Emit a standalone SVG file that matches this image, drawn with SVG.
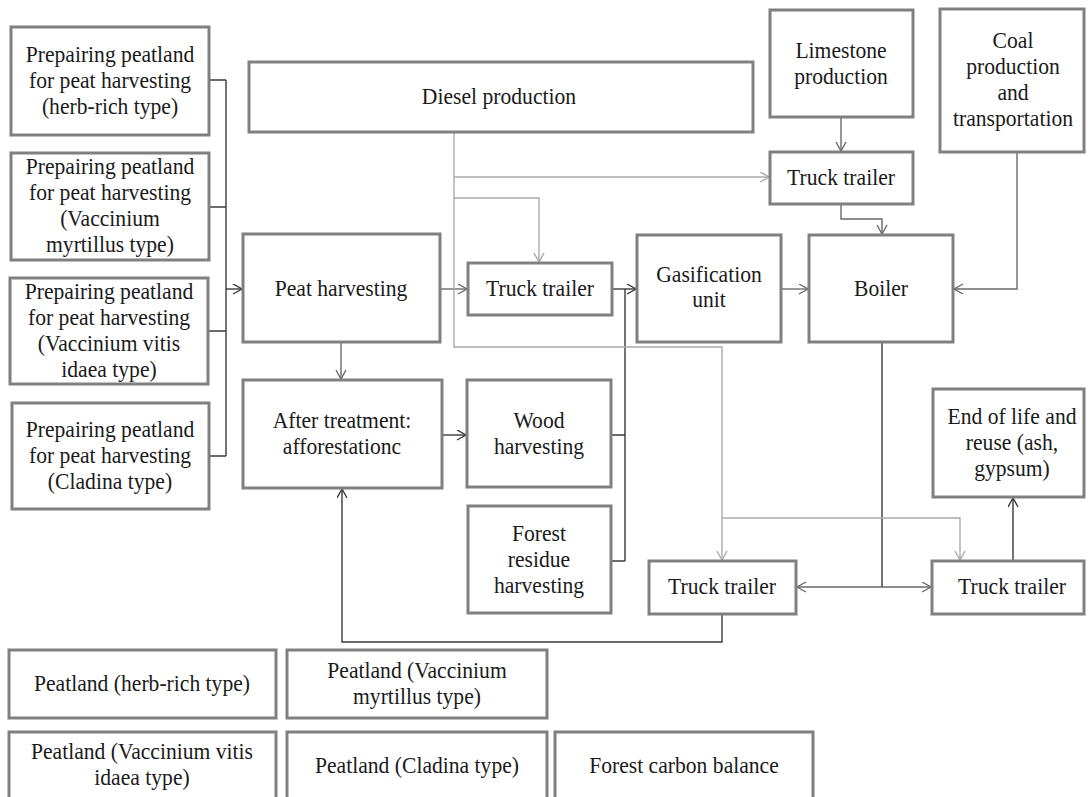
<svg xmlns="http://www.w3.org/2000/svg" width="1088" height="797" viewBox="0 0 1088 797">
  <style>
    .box { fill: #ffffff; stroke: #808080; stroke-width: 3; }
    .lbl { font-family: "Liberation Serif", "Times New Roman", serif; font-size: 23px; fill: #1a1a1a; text-anchor: middle;
           transform: scaleX(0.94); transform-box: fill-box; transform-origin: center; }
    .dk { fill: none; stroke: #3a3a3a; stroke-width: 1.4; }
    .md { fill: none; stroke: #6a6a6a; stroke-width: 1.4; }
    .lt { fill: none; stroke: #ababab; stroke-width: 1.4; }
  </style>
  <defs>
    <marker id="arDk" markerUnits="userSpaceOnUse" markerWidth="12" markerHeight="12" refX="10" refY="5.5" orient="auto">
      <path d="M1,0.5 L10,5.5 L1,10.5" fill="none" stroke="#3a3a3a" stroke-width="1.4"/>
    </marker>
    <marker id="arMd" markerUnits="userSpaceOnUse" markerWidth="12" markerHeight="12" refX="10" refY="5.5" orient="auto">
      <path d="M1,0.5 L10,5.5 L1,10.5" fill="none" stroke="#6a6a6a" stroke-width="1.4"/>
    </marker>
    <marker id="arLt" markerUnits="userSpaceOnUse" markerWidth="12" markerHeight="12" refX="10" refY="5.5" orient="auto">
      <path d="M1,0.5 L10,5.5 L1,10.5" fill="none" stroke="#ababab" stroke-width="1.4"/>
    </marker>
  </defs>

  <rect width="1088" height="797" fill="#ffffff"/>

  <!-- connectors -->
  <g id="connectors">
    <!-- peatland preparation merge into peat harvesting -->
    <path class="dk" d="M209,80 H226 M209,207 H226 M208,331 H226 M209,456 H226 M226,80 V456"/>
    <path class="dk" d="M226,289 H242" marker-end="url(#arDk)"/>
    <!-- peat harvesting outputs -->
    <path class="md" d="M440,289 H467" marker-end="url(#arMd)"/>
    <path class="md" d="M341,342 V379" marker-end="url(#arMd)"/>
    <path class="dk" d="M442,435 H466" marker-end="url(#arDk)"/>
    <!-- wood and residue merge into gasification -->
    <path class="dk" d="M611,435 H625 M611,561 H625 M625,561 V289"/>
    <path class="dk" d="M612,289 H636" marker-end="url(#arDk)"/>
    <!-- gasification and supplies to boiler -->
    <path class="md" d="M781,289 H808" marker-end="url(#arMd)"/>
    <path class="md" d="M1017,152 V289 H954" marker-end="url(#arMd)"/>
    <path class="md" d="M841,117 V151" marker-end="url(#arMd)"/>
    <path class="md" d="M841,204 V219 H882 V234" marker-end="url(#arMd)"/>
    <!-- boiler residues -->
    <path class="dk" d="M882,342 V587"/>
    <path class="md" d="M882,587 H797" marker-end="url(#arMd)"/>
    <path class="md" d="M882,587 H931" marker-end="url(#arMd)"/>
    <path class="dk" d="M1013,561 V498" marker-end="url(#arDk)"/>
    <path class="dk" d="M722,614 V642 H342 V489" marker-end="url(#arDk)"/>
    <!-- diesel supply -->
    <path class="lt" d="M454,132 V347 H722 V560" marker-end="url(#arLt)"/>
    <path class="lt" d="M454,177 H769" marker-end="url(#arLt)"/>
    <path class="lt" d="M454,198 H539 V262" marker-end="url(#arLt)"/>
    <path class="lt" d="M722,518 H960 V560" marker-end="url(#arLt)"/>
  </g>

  <!-- nodes -->
  <g id="prep-herb">
    <rect class="box" x="11" y="27" width="198" height="108"/>
    <text class="lbl" x="110" y="62">Prepairing peatland</text>
    <text class="lbl" x="110" y="88">for peat harvesting</text>
    <text class="lbl" x="110" y="114">(herb-rich type)</text>
  </g>
  <g id="prep-myrtillus">
    <rect class="box" x="11" y="153" width="198" height="107"/>
    <text class="lbl" x="110" y="174">Prepairing peatland</text>
    <text class="lbl" x="110" y="200">for peat harvesting</text>
    <text class="lbl" x="110" y="226">(Vaccinium</text>
    <text class="lbl" x="110" y="252">myrtillus type)</text>
  </g>
  <g id="prep-vitis">
    <rect class="box" x="10" y="278" width="198" height="106"/>
    <text class="lbl" x="109" y="299">Prepairing peatland</text>
    <text class="lbl" x="109" y="325">for peat harvesting</text>
    <text class="lbl" x="109" y="351">(Vaccinium vitis</text>
    <text class="lbl" x="109" y="377">idaea type)</text>
  </g>
  <g id="prep-cladina">
    <rect class="box" x="12" y="403" width="197" height="106"/>
    <text class="lbl" x="110" y="437">Prepairing peatland</text>
    <text class="lbl" x="110" y="463">for peat harvesting</text>
    <text class="lbl" x="110" y="489">(Cladina type)</text>
  </g>
  <g id="diesel">
    <rect class="box" x="249" y="62" width="504" height="70"/>
    <text class="lbl" x="499" y="104">Diesel production</text>
  </g>
  <g id="peat-harvesting">
    <rect class="box" x="243" y="234" width="197" height="108"/>
    <text class="lbl" x="341" y="296">Peat harvesting</text>
  </g>
  <g id="after-treatment">
    <rect class="box" x="243" y="380" width="199" height="108"/>
    <text class="lbl" x="342" y="428">After treatment:</text>
    <text class="lbl" x="342" y="454">afforestationc</text>
  </g>
  <g id="wood-harvesting">
    <rect class="box" x="467" y="380" width="144" height="107"/>
    <text class="lbl" x="539" y="428">Wood</text>
    <text class="lbl" x="539" y="454">harvesting</text>
  </g>
  <g id="residue-harvesting">
    <rect class="box" x="468" y="506" width="143" height="107"/>
    <text class="lbl" x="539" y="541">Forest</text>
    <text class="lbl" x="539" y="567">residue</text>
    <text class="lbl" x="539" y="593">harvesting</text>
  </g>
  <g id="truck-peat">
    <rect class="box" x="468" y="263" width="144" height="52"/>
    <text class="lbl" x="540" y="296">Truck trailer</text>
  </g>
  <g id="gasification">
    <rect class="box" x="637" y="235" width="144" height="107"/>
    <text class="lbl" x="709" y="282">Gasification</text>
    <text class="lbl" x="709" y="307">unit</text>
  </g>
  <g id="boiler">
    <rect class="box" x="809" y="235" width="144" height="107"/>
    <text class="lbl" x="881" y="296">Boiler</text>
  </g>
  <g id="limestone">
    <rect class="box" x="770" y="10" width="143" height="107"/>
    <text class="lbl" x="841" y="58">Limestone</text>
    <text class="lbl" x="841" y="84">production</text>
  </g>
  <g id="truck-limestone">
    <rect class="box" x="770" y="152" width="143" height="52"/>
    <text class="lbl" x="841" y="185">Truck trailer</text>
  </g>
  <g id="coal">
    <rect class="box" x="940" y="9" width="144" height="143"/>
    <text class="lbl" x="1013" y="48">Coal</text>
    <text class="lbl" x="1013" y="74">production</text>
    <text class="lbl" x="1013" y="100">and</text>
    <text class="lbl" x="1013" y="126">transportation</text>
  </g>
  <g id="end-of-life">
    <rect class="box" x="933" y="389" width="151" height="108"/>
    <text class="lbl" x="1012" y="424">End of life and</text>
    <text class="lbl" x="1012" y="450">reuse (ash,</text>
    <text class="lbl" x="1012" y="476">gypsum)</text>
  </g>
  <g id="truck-return">
    <rect class="box" x="649" y="561" width="147" height="53"/>
    <text class="lbl" x="722" y="594">Truck trailer</text>
  </g>
  <g id="truck-ash">
    <rect class="box" x="932" y="561" width="152" height="53"/>
    <text class="lbl" x="1012" y="594">Truck trailer</text>
  </g>
  <g id="peatland-herb">
    <rect class="box" x="9" y="650" width="267" height="68"/>
    <text class="lbl" x="142" y="691">Peatland (herb-rich type)</text>
  </g>
  <g id="peatland-myrtillus">
    <rect class="box" x="287" y="650" width="260" height="68"/>
    <text class="lbl" x="417" y="678">Peatland (Vaccinium</text>
    <text class="lbl" x="417" y="704">myrtillus type)</text>
  </g>
  <g id="peatland-vitis">
    <rect class="box" x="9" y="732" width="267" height="75"/>
    <text class="lbl" x="142" y="759">Peatland (Vaccinium vitis</text>
    <text class="lbl" x="142" y="785">idaea type)</text>
  </g>
  <g id="peatland-cladina">
    <rect class="box" x="287" y="732" width="260" height="75"/>
    <text class="lbl" x="417" y="773">Peatland (Cladina type)</text>
  </g>
  <g id="forest-carbon">
    <rect class="box" x="555" y="732" width="258" height="75"/>
    <text class="lbl" x="684" y="773">Forest carbon balance</text>
  </g>
</svg>
